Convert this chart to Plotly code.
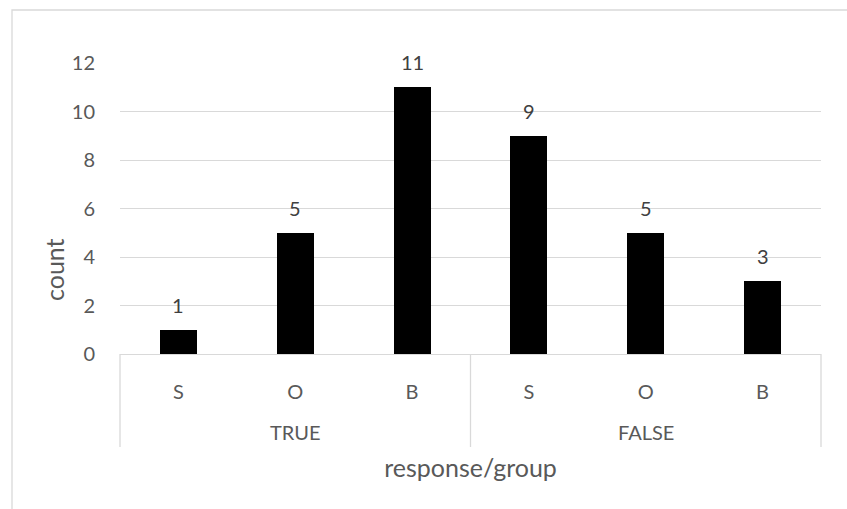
import plotly.graph_objects as go

# Counts of responses per group, split by TRUE / FALSE answer
groups = ["TRUE", "TRUE", "TRUE", "FALSE", "FALSE", "FALSE"]
responses = ["S", "O", "B", "S", "O", "B"]
counts = [1, 5, 11, 9, 5, 3]

y_ticks = [0, 2, 4, 6, 8, 10, 12]

GREY = "#595959"
LINE = "#d9d9d9"
FONT = "Lato"

idx = list(range(len(counts)))
n = len(counts)

fig = go.Figure()
fig.add_trace(go.Bar(
    x=idx, y=counts,
    marker=dict(color="#000000", line=dict(width=0)),
    width=0.317,
    hoverinfo="x+y",
))

# value labels above each bar
for i, v in zip(idx, counts):
    fig.add_annotation(x=i, y=v, text=str(v), showarrow=False,
                       yshift=25, font=dict(family=FONT, size=20, color="#404040"))

# group labels (TRUE / FALSE) and the dividers of the two-level category axis
plot_w = 701.0
plot_h = 291.0
div_bottom = -93.0 / plot_h
ordered_groups = []
for g in groups:
    if g not in ordered_groups:
        ordered_groups.append(g)
boundaries = [0.0]
for g in ordered_groups:
    members = [i for i, gg in enumerate(groups) if gg == g]
    centre = sum(members) / len(members)
    fig.add_annotation(x=centre, y=-78.0 / plot_h, yref="paper", text=g,
                       showarrow=False, yanchor="middle",
                       font=dict(family=FONT, size=20, color=GREY))
    boundaries.append((max(members) + 1) / n)
for b in boundaries:
    fig.add_shape(type="line", xref="paper", yref="paper",
                  x0=b, x1=b, y0=0, y1=div_bottom,
                  line=dict(color=LINE, width=1.3))

# vertical axis title, centred on the whole axis area
fig.add_annotation(x=-66.0 / plot_w, y=84.0 / plot_h, xref="paper", yref="paper",
                   text="count", textangle=-90, showarrow=False,
                   xanchor="center", yanchor="middle",
                   font=dict(family=FONT, size=25, color=GREY))

# chart border
fig.add_shape(type="rect", xref="paper", yref="paper",
              x0=(12 - 120) / plot_w, x1=1.3, y0=-0.8, y1=(354 - 10) / plot_h,
              line=dict(color=LINE, width=1.3), fillcolor="rgba(0,0,0,0)",
              layer="below")

fig.update_layout(
    width=847, height=509,
    margin=dict(l=120, r=26, t=63, b=155),
    paper_bgcolor="white", plot_bgcolor="white",
    showlegend=False,
    font=dict(family=FONT, color=GREY),
    bargap=0,
)
fig.update_xaxes(
    tickmode="array", tickvals=idx, ticktext=responses,
    range=[-0.5, n - 0.5],
    showline=True, linecolor=LINE, linewidth=1.3,
    showgrid=False, zeroline=False,
    ticks="outside", ticklen=20, tickcolor="rgba(0,0,0,0)",
    tickfont=dict(family=FONT, size=20, color=GREY),
    title=dict(text="response/group", font=dict(family=FONT, size=25, color=GREY),
               standoff=57),
)
fig.update_yaxes(
    range=[0, 12], tickmode="array", tickvals=y_ticks,
    showgrid=True, gridcolor=LINE, gridwidth=1.3,
    zeroline=False, showline=False,
    ticks="outside", ticklen=20, tickcolor="rgba(0,0,0,0)",
    tickfont=dict(family=FONT, size=20, color=GREY),
)

fig.write_html("out.html")
